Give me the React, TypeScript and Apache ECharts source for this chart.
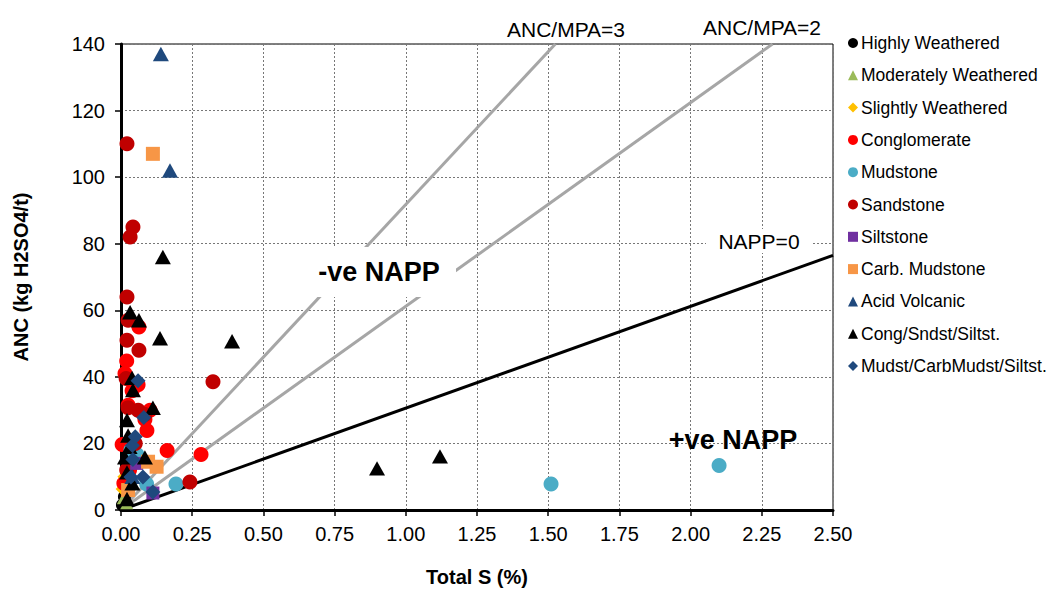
import React, { useEffect, useRef } from "react";
import * as echarts from "echarts";

// ---- data: [Total S (%), ANC (kg H2SO4/t)] ----
const highlyWeathered = [[0.005, 1.5], [0.012, 4]];
const moderatelyWeathered = [[0.008, 3.5], [0.02, 2]];
const slightlyWeathered = [[0.004, 6.3], [0.01, 10]];
const conglomerate = [
  [0.020, 44.8], [0.014, 41], [0.060, 37.6], [0.039, 35.8], [0.102, 30], [0.084, 27.2],
  [0.091, 23.9], [0.004, 19.7], [0.162, 17.9], [0.281, 16.7], [0.063, 55], [0.025, 31.5],
  [0.030, 12], [0.010, 8],
];
const mudstone = [[0.193, 7.8], [1.51, 7.8], [2.1, 13.4], [0.056, 16.7], [0.09, 7.8], [0.035, 18]];
const sandstone = [
  [0.021, 110], [0.042, 85], [0.032, 82], [0.021, 64], [0.025, 57], [0.021, 51], [0.063, 48],
  [0.323, 38.5], [0.242, 8.4], [0.025, 30.7], [0.06, 30], [0.084, 28.7], [0.018, 39.5],
  [0.05, 20], [0.02, 12],
];
const siltstone = [[0.112, 5.1], [0.055, 14]];
const carbMudstone = [[0.112, 107], [0.095, 14.5], [0.125, 13], [0.025, 6]];
const acidVolcanic = [[0.14, 137], [0.172, 102], [0.04, 10]];
const congSndstSiltst = [
  [0.147, 76], [0.063, 57], [0.032, 59.4], [0.137, 51.6], [0.39, 50.7], [0.899, 12.5],
  [1.12, 16.1], [0.039, 39.7], [0.042, 36], [0.112, 30.7], [0.021, 27], [0.025, 22.4],
  [0.084, 15.8], [0.014, 15.8], [0.021, 11.3], [0.021, 3.3], [0.03, 19], [0.04, 8],
];
const mudstCarbMudstSiltst = [
  [0.06, 38.8], [0.08, 27.8], [0.04, 19.4], [0.042, 15.2], [0.035, 9.9], [0.077, 9.9],
  [0.112, 5.4], [0.05, 22],
];

// reference lines (ANC = k * 30.6 * S)
const nappZeroLine = [[0, 0], [2.5, 76.5]];
const ratio2Line = [[0, 0], [140 / 61.2, 140]];
const ratio3Line = [[0, 0], [140 / 91.8, 140]];

const xTicks = { min: 0, max: 2.5, interval: 0.25 };
const yTicks = { min: 0, max: 140, interval: 20 };

const FONT = "Liberation Sans, Arial, sans-serif";

type S = { name: string; data: number[][]; symbol: string; size: number; color: string };
const scatterSeries: S[] = [
  { name: "Highly Weathered", data: highlyWeathered, symbol: "circle", size: 13, color: "#000000" },
  { name: "Moderately Weathered", data: moderatelyWeathered, symbol: "triangle", size: 13, color: "#9BBB59" },
  { name: "Slightly Weathered", data: slightlyWeathered, symbol: "diamond", size: 13, color: "#FFC000" },
  { name: "Conglomerate", data: conglomerate, symbol: "circle", size: 15, color: "#FF0000" },
  { name: "Mudstone", data: mudstone, symbol: "circle", size: 15, color: "#4BACC6" },
  { name: "Sandstone", data: sandstone, symbol: "circle", size: 15, color: "#C00000" },
  { name: "Siltstone", data: siltstone, symbol: "rect", size: 13, color: "#7030A0" },
  { name: "Carb. Mudstone", data: carbMudstone, symbol: "rect", size: 14, color: "#F79646" },
  { name: "Acid Volcanic", data: acidVolcanic, symbol: "triangle", size: 16, color: "#1F497D" },
  { name: "Cong/Sndst/Siltst.", data: congSndstSiltst, symbol: "triangle", size: 16, color: "#000000" },
  { name: "Mudst/CarbMudst/Siltst.", data: mudstCarbMudstSiltst, symbol: "diamond", size: 15, color: "#1F497D" },
];

export default function App() {
  const ref = useRef<HTMLDivElement>(null);
  useEffect(() => {
    if (!ref.current) return;
    const chart = echarts.init(ref.current, undefined, { renderer: "svg" });
    const lineSeries = [
      { data: ratio3Line, color: "#A6A6A6" },
      { data: ratio2Line, color: "#A6A6A6" },
      { data: nappZeroLine, color: "#000000" },
    ].map((l) => ({
      type: "line",
      data: l.data,
      symbol: "none",
      silent: true,
      z: 1,
      lineStyle: { color: l.color, width: 3 },
    }));
    chart.setOption({
      animation: false,
      backgroundColor: "#fff",
      textStyle: { fontFamily: FONT },
      grid: { left: 121, top: 44, right: 218, bottom: 74, show: true, borderColor: "#000", borderWidth: 1 },
      xAxis: {
        type: "value",
        ...xTicks,
        name: "Total S (%)",
        nameLocation: "middle",
        nameGap: 57,
        nameTextStyle: { fontSize: 20, fontWeight: "bold", color: "#000", fontFamily: FONT },
        axisLine: { show: true, onZero: false, lineStyle: { color: "#000", width: 3 } },
        axisTick: { show: true, length: 6, lineStyle: { color: "#000", width: 1.5 } },
        axisLabel: {
          fontSize: 20, color: "#000", margin: 14, fontFamily: FONT,
          formatter: (v: number) => v.toFixed(2),
        },
        splitLine: { show: true, lineStyle: { color: "#777", type: [2, 2], width: 1 } },
      },
      yAxis: {
        type: "value",
        ...yTicks,
        name: "ANC (kg H2SO4/t)",
        nameLocation: "middle",
        nameGap: 90,
        nameRotate: 90,
        nameTextStyle: { fontSize: 20, fontWeight: "bold", color: "#000", fontFamily: FONT },
        axisLine: { show: true, onZero: false, lineStyle: { color: "#000", width: 3 } },
        axisTick: { show: true, length: 6, lineStyle: { color: "#000", width: 1.5 } },
        axisLabel: { fontSize: 20, color: "#000", margin: 16, fontFamily: FONT },
        splitLine: { show: true, lineStyle: { color: "#777", type: [2, 2], width: 1 } },
      },
      legend: {
        orient: "vertical",
        left: 843,
        top: 29,
        itemWidth: 10,
        itemHeight: 10,
        itemGap: 14.3,
        data: scatterSeries.map((s) => s.name),
        textStyle: { fontSize: 17.5, color: "#000", fontFamily: FONT, lineHeight: 18, padding: [0, 0, 0, -2] },
      },
      series: [
        ...lineSeries,
        ...scatterSeries.map((s, i) => ({
          type: "scatter",
          name: s.name,
          data: s.data,
          symbol: s.symbol,
          symbolSize: s.symbol === "triangle" ? [s.size, s.size * 0.9] : s.size,
          itemStyle: { color: s.color, opacity: 1 },
          z: 2 + i,
        })),
      ],
      graphic: [
        { type: "rect", z: 50, shape: { x: 298, y: 247, width: 158, height: 50 }, style: { fill: "#fff" } },
        {
          type: "text", z: 51, x: 379, y: 272,
          style: { text: "-ve NAPP", font: `bold 27px ${FONT}`, fill: "#000", align: "center", verticalAlign: "middle" },
        },
        {
          type: "text", z: 51, x: 733, y: 440,
          style: { text: "+ve NAPP", font: `bold 27px ${FONT}`, fill: "#000", align: "center", verticalAlign: "middle" },
        },
        { type: "rect", z: 50, shape: { x: 706, y: 229, width: 106, height: 24 }, style: { fill: "#fff" } },
        {
          type: "text", z: 51, x: 759, y: 241,
          style: { text: "NAPP=0", font: `21px ${FONT}`, fill: "#000", align: "center", verticalAlign: "middle" },
        },
        {
          type: "text", z: 51, x: 566, y: 29,
          style: { text: "ANC/MPA=3", font: `21px ${FONT}`, fill: "#000", align: "center", verticalAlign: "middle" },
        },
        {
          type: "text", z: 51, x: 762, y: 27,
          style: { text: "ANC/MPA=2", font: `21px ${FONT}`, fill: "#000", align: "center", verticalAlign: "middle" },
        },
      ],
    });
    return () => chart.dispose();
  }, []);
  return (
    <div
      ref={ref}
      style={{ position: "fixed", left: 0, top: 0, width: 1051, height: 592, background: "#fff" }}
    />
  );
}
